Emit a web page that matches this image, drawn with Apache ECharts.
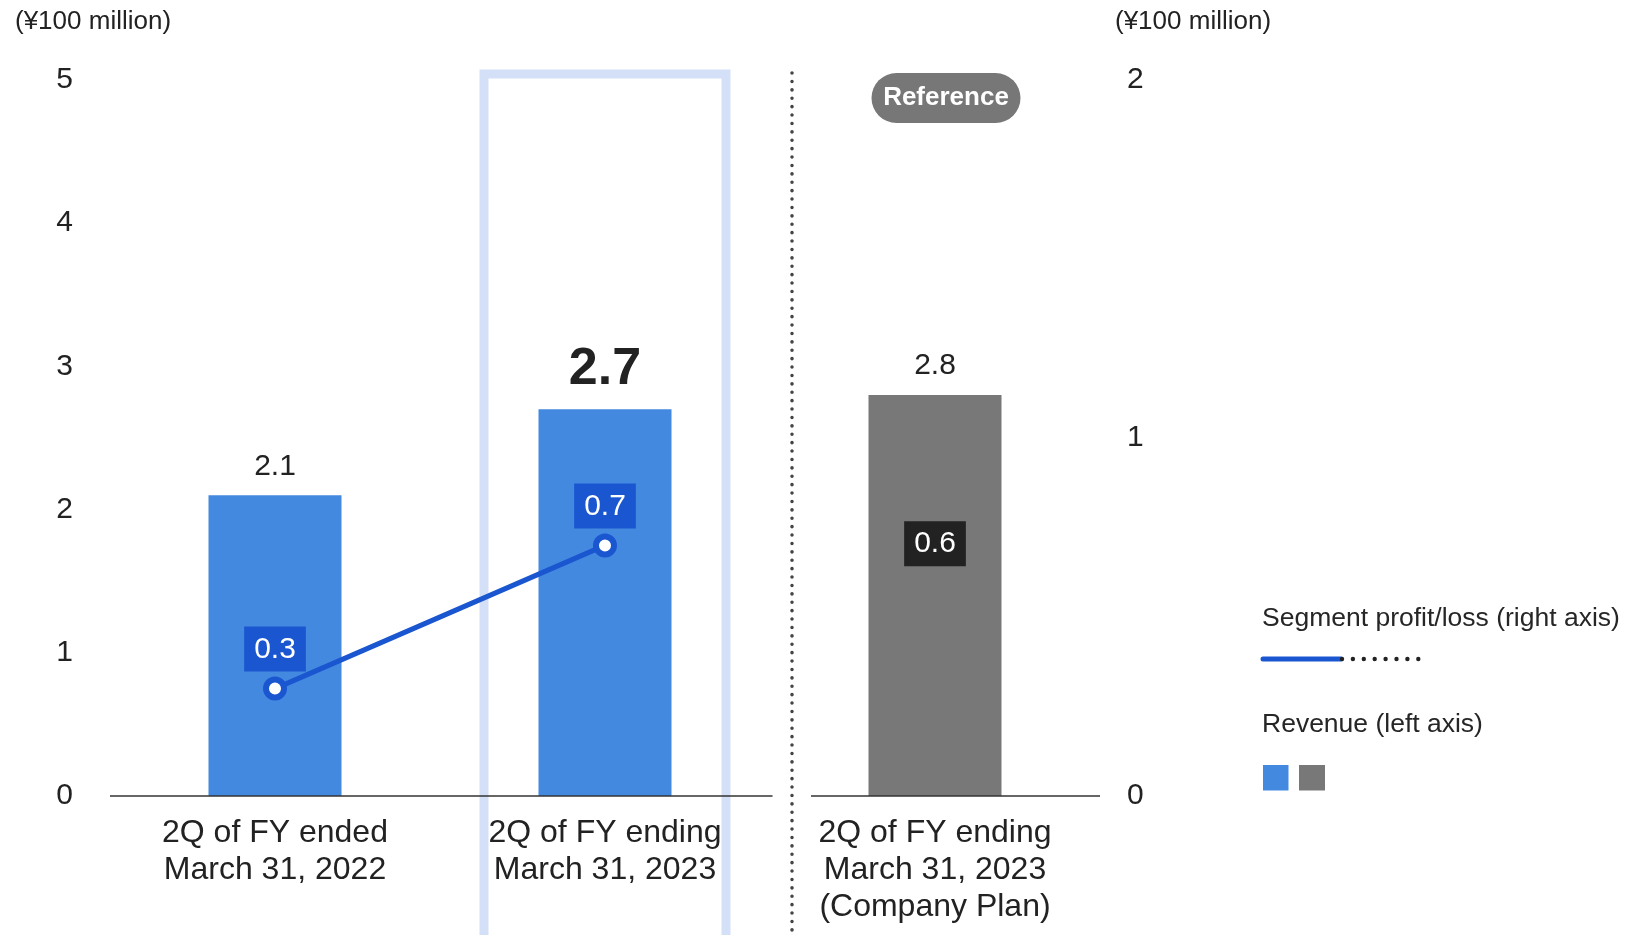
<!DOCTYPE html>
<html>
<head>
<meta charset="utf-8">
<title>Revenue and segment profit/loss</title>
<script src="https://cdn.jsdelivr.net/npm/echarts/dist/echarts.min.js"></script>
<style>
  html, body { margin: 0; padding: 0; background: #ffffff; }
  #chart { width: 1625px; height: 935px; }
</style>
</head>
<body>
<div id="chart"></div>
<script>
// Period labels along the x axis
const categories = [
  '2Q of FY ended\nMarch 31, 2022',
  '2Q of FY ending\nMarch 31, 2023',
  '2Q of FY ending\nMarch 31, 2023\n(Company Plan)'
];
// Revenue (left axis, ¥100 million)
const revenue = [2.1, 2.7, 2.8];
// Segment profit/loss, actual results (right axis, ¥100 million)
const profitActual = [0.3, 0.7, '-'];
// Segment profit/loss, company plan (right axis)
const profitPlan = ['-', '-', 0.6];
// Axis ranges and tick steps
const leftTicks = { min: 0, max: 5, interval: 1 };
const rightTicks = { min: 0, max: 2, interval: 1 };

const BLUE = '#4389e0';
const GRAY = '#787878';
const LINE_BLUE = '#1a56d0';
const TEXT = '#222222';
const FONT = '"Liberation Sans", Arial, Helvetica, sans-serif';

const barColors = [BLUE, BLUE, GRAY];

const chart = echarts.init(document.getElementById('chart'), null, { renderer: 'canvas' });

const option = {
  animation: false,
  textStyle: { fontFamily: FONT },
  grid: { left: 110, right: 525, top: 80, bottom: 139 },
  xAxis: {
    type: 'category',
    data: categories,
    axisLine: { show: false },
    axisTick: { show: false },
    axisLabel: {
      interval: 0,
      fontSize: 32,
      lineHeight: 37,
      color: TEXT,
      margin: 19,
      fontFamily: FONT
    }
  },
  yAxis: [
    {
      type: 'value',
      position: 'left',
      min: leftTicks.min, max: leftTicks.max, interval: leftTicks.interval,
      axisLine: { show: false },
      axisTick: { show: false },
      splitLine: { show: false },
      axisLabel: { fontSize: 30, color: TEXT, margin: 37, fontFamily: FONT }
    },
    {
      type: 'value',
      position: 'right',
      min: rightTicks.min, max: rightTicks.max, interval: rightTicks.interval,
      axisLine: { show: false },
      axisTick: { show: false },
      splitLine: { show: false },
      axisLabel: { fontSize: 30, color: TEXT, margin: 27, align: 'left', fontFamily: FONT }
    }
  ],
  series: [
    {
      name: 'Revenue',
      type: 'bar',
      yAxisIndex: 0,
      barWidth: 133,
      z: 2,
      data: revenue.map((v, i) => ({
        value: v,
        itemStyle: { color: barColors[i] },
        label: i === 1
          ? { fontSize: 52, fontWeight: 'bold', distance: 14 }
          : { fontSize: 30, distance: 14 }
      })),
      label: {
        show: true,
        position: 'top',
        color: TEXT,
        fontFamily: FONT,
        formatter: p => p.value.toFixed(1)
      },
      emphasis: { disabled: true }
    },
    {
      name: 'Segment profit/loss',
      type: 'line',
      yAxisIndex: 1,
      data: profitActual,
      z: 5,
      symbol: 'circle',
      symbolSize: 18,
      lineStyle: { color: LINE_BLUE, width: 5 },
      itemStyle: { color: '#ffffff', borderColor: LINE_BLUE, borderWidth: 6 },
      label: {
        show: true,
        position: 'top',
        distance: 5,
        color: '#ffffff',
        fontSize: 30,
        lineHeight: 30,
        fontFamily: FONT,
        backgroundColor: LINE_BLUE,
        padding: [8, 10, 7, 10],
        formatter: p => Number(p.value).toFixed(1)
      },
      emphasis: { disabled: true }
    },
    {
      name: 'Segment profit/loss (plan)',
      type: 'line',
      yAxisIndex: 1,
      data: profitPlan,
      z: 5,
      symbol: 'circle',
      symbolSize: 18,
      lineStyle: { width: 0, opacity: 0 },
      itemStyle: { color: 'rgba(0,0,0,0)', borderWidth: 0 },
      label: {
        show: true,
        position: 'top',
        distance: 6,
        color: '#ffffff',
        fontSize: 30,
        lineHeight: 30,
        fontFamily: FONT,
        backgroundColor: '#222222',
        padding: [8, 10, 7, 10],
        formatter: p => Number(p.value).toFixed(1)
      },
      emphasis: { disabled: true }
    }
  ]
};

chart.setOption(option);

// Decorations positioned from the chart's own scales
const px = (i, v) => chart.convertToPixel({ xAxisIndex: 0, yAxisIndex: 0 }, [i, v]);
const c0 = px(0, 0)[0], c1 = px(1, 0)[0], c2 = px(2, 0)[0];
const step = c1 - c0;
const baseY = px(0, 0)[1];
const topY = px(0, leftTicks.max)[1];
const gridL = c0 - step / 2, gridR = c2 + step / 2;
const sepX = (c1 + c2) / 2 + 22;

const graphics = [];

// Highlight frame around the current period
graphics.push({
  type: 'rect', z: 0, silent: true,
  shape: { x: c1 - 121, y: topY - 6, width: 242, height: 870 },
  style: { fill: 'none', stroke: '#d3e0f7', lineWidth: 9 }
});

// Baseline split in two around the separator
graphics.push({
  type: 'line', z: 10, silent: true,
  shape: { x1: gridL, y1: baseY, x2: sepX - 19.5, y2: baseY },
  style: { stroke: '#333333', lineWidth: 1.5 }
});
graphics.push({
  type: 'line', z: 10, silent: true,
  shape: { x1: sepX + 19, y1: baseY, x2: gridR, y2: baseY },
  style: { stroke: '#333333', lineWidth: 1.5 }
});

// Dotted separator between results and plan
graphics.push({
  type: 'line', z: 10, silent: true,
  shape: { x1: sepX, y1: topY - 7, x2: sepX, y2: 940 },
  style: { stroke: '#444444', lineWidth: 3.5, lineDash: [0.1, 8.3], lineCap: 'round' }
});

// "Reference" pill above the plan column
graphics.push({
  type: 'group', z: 10, silent: true,
  x: c2 + 11, y: topY + 18,
  children: [
    { type: 'rect', shape: { x: -74.5, y: -25, width: 149, height: 50, r: 25 },
      style: { fill: '#777777' } },
    { type: 'text', x: 0, y: 0,
      style: { text: 'Reference', fill: '#ffffff', fontSize: 26, fontWeight: 'bold',
               fontFamily: FONT, align: 'center', verticalAlign: 'middle' } }
  ]
});

// Axis unit captions
graphics.push({
  type: 'text', z: 10, silent: true, x: 15, y: 22,
  style: { text: '(¥100 million)', fill: TEXT, fontSize: 26, fontFamily: FONT, verticalAlign: 'middle' }
});
graphics.push({
  type: 'text', z: 10, silent: true, x: gridR + 15, y: 22,
  style: { text: '(¥100 million)', fill: TEXT, fontSize: 26, fontFamily: FONT, verticalAlign: 'middle' }
});

// Legend
const lx = 1262;
graphics.push({
  type: 'text', z: 10, silent: true, x: lx, y: 619,
  style: { text: 'Segment profit/loss (right axis)', fill: '#262626', fontSize: 26.5,
           fontFamily: FONT, verticalAlign: 'middle' }
});
graphics.push({
  type: 'line', z: 10, silent: true,
  shape: { x1: lx + 1, y1: 659, x2: lx + 79, y2: 659 },
  style: { stroke: LINE_BLUE, lineWidth: 5, lineCap: 'round' }
});
for (let k = 0; k < 8; k++) {
  graphics.push({
    type: 'circle', z: 10, silent: true,
    shape: { cx: lx + 80 + k * 10.9, cy: 659, r: 2.2 },
    style: { fill: '#222222' }
  });
}
graphics.push({
  type: 'text', z: 10, silent: true, x: lx, y: 725,
  style: { text: 'Revenue (left axis)', fill: '#262626', fontSize: 26.5,
           fontFamily: FONT, verticalAlign: 'middle' }
});
graphics.push({
  type: 'rect', z: 10, silent: true,
  shape: { x: lx + 1, y: 765, width: 25.5, height: 25.5 }, style: { fill: BLUE }
});
graphics.push({
  type: 'rect', z: 10, silent: true,
  shape: { x: lx + 37, y: 765, width: 26, height: 25.5 }, style: { fill: GRAY }
});

chart.setOption({ graphic: graphics });
</script>
</body>
</html>
